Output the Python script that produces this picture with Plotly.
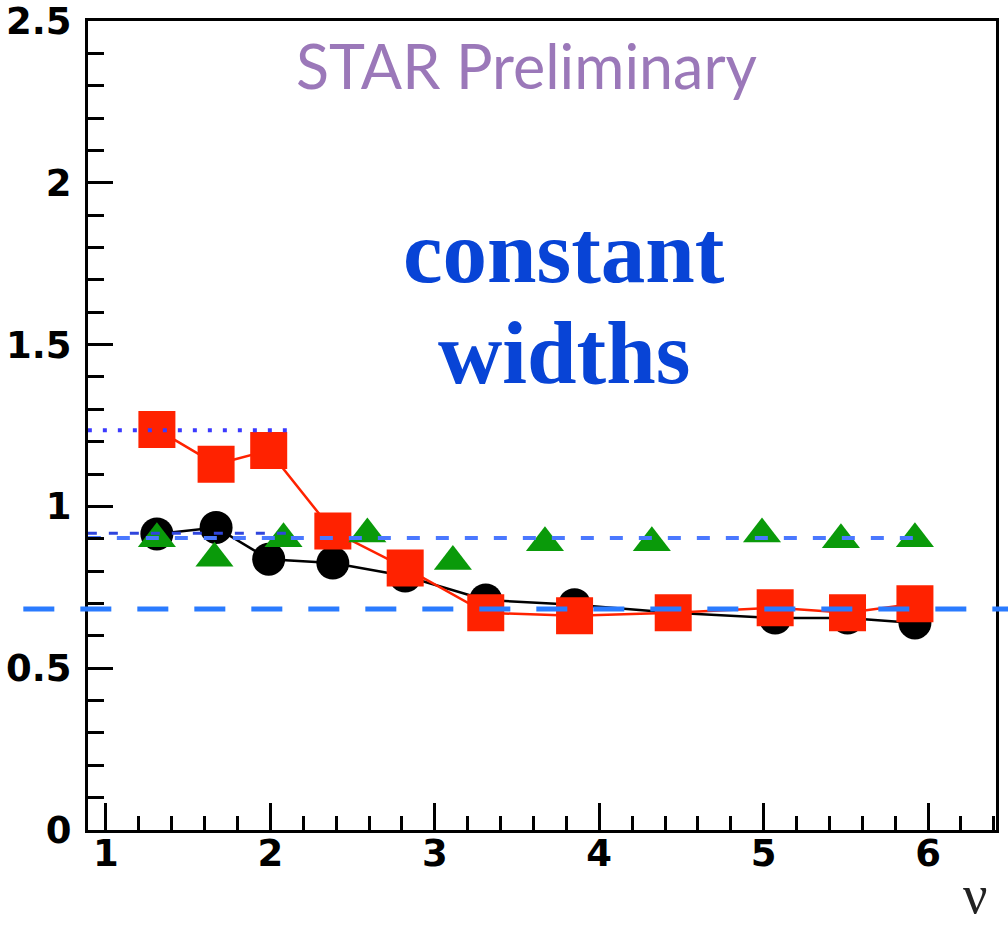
import plotly.graph_objects as go

# ---- data ----
nu = [1.31, 1.67, 1.99, 2.38, 2.82, 3.31, 3.85, 4.45, 5.07, 5.51, 5.92]
red_vals = [1.238, 1.13, 1.173, 0.924, 0.81, 0.671, 0.662, 0.671, 0.687, 0.671, 0.699]
black_vals = [0.915, 0.935, 0.837, 0.825, 0.785, 0.711, 0.696, 0.671, 0.655, 0.655, 0.64]

nu_green = [1.31, 1.66, 2.08, 2.59, 3.11, 3.67, 4.32, 4.99, 5.47, 5.92]
green_vals = [0.90, 0.84, 0.90, 0.915, 0.83, 0.888, 0.888, 0.915, 0.897, 0.90]

# reference levels
level_dotted = 1.235
level_dash_short = 0.917
level_dash_long = 0.902
level_thick = 0.683
short_span = [0.89, 2.1]
long_span = [0.89, 6.0]

x_range = [0.891, 6.413]
y_range = [0, 2.5]
y_tickvals = [0, 0.5, 1, 1.5, 2, 2.5]
y_ticktext = ["0", "0.5", "1", "1.5", "2", "2.5"]
x_tickvals = [1, 2, 3, 4, 5, 6]
x_ticktext = ["1", "2", "3", "4", "5", "6"]

TOP = 21
BOTTOM_PX = 830
PLOT_H = BOTTOM_PX - TOP

fig = go.Figure()

fig.add_trace(go.Scatter(
    x=nu, y=black_vals, mode="lines+markers",
    line=dict(color="black", width=2.5),
    marker=dict(symbol="circle", size=33, color="black"),
    showlegend=False))

fig.add_trace(go.Scatter(
    x=nu, y=red_vals, mode="lines+markers",
    line=dict(color="#ff2200", width=2.5),
    marker=dict(symbol="square", size=37, color="#ff2200"),
    showlegend=False))

fig.add_trace(go.Scatter(
    x=nu_green, y=green_vals, mode="markers",
    marker=dict(symbol="triangle-up", size=33, color="#0a9a0a"),
    showlegend=False))

# reference lines drawn on top
fig.add_trace(go.Scatter(
    x=short_span, y=[level_dotted, level_dotted], mode="lines",
    line=dict(color="#3b3bff", width=4, dash="4px,11px"),
    showlegend=False))
fig.add_trace(go.Scatter(
    x=short_span, y=[level_dash_short, level_dash_short], mode="lines",
    line=dict(color="#2f45dd", width=3, dash="9px,12px"),
    showlegend=False))
fig.add_trace(go.Scatter(
    x=long_span, y=[level_dash_long, level_dash_long], mode="lines",
    line=dict(color="#4a78ff", width=4, dash="13px,16px"),
    showlegend=False))

fig.add_shape(type="line", xref="paper", yref="y",
              x0=-0.134, x1=1.03, y0=level_thick, y1=level_thick,
              line=dict(color="#2a7bff", width=5, dash="31px,26px"),
              layer="above")

axis_common = dict(
    showline=True, linewidth=3, linecolor="black", mirror=True,
    ticks="inside", tickcolor="black", tickwidth=3,
    showgrid=False, zeroline=False, automargin=False,
    ticklabeloverflow="allow",
    tickfont=dict(family="DejaVu Sans", size=37, color="black", weight="bold"),
)

fig.update_xaxes(range=x_range, tickvals=x_tickvals, ticktext=x_ticktext,
                 ticklen=27, ticklabelstandoff=-11,
                 minor=dict(ticks="inside", ticklen=14, tickwidth=3,
                            tickcolor="black", dtick=0.2, tick0=0, showgrid=False),
                 **axis_common)
fig.update_yaxes(range=y_range, tickvals=y_tickvals, ticktext=y_ticktext,
                 ticklen=25, ticklabelstandoff=6,
                 minor=dict(ticks="inside", ticklen=16, tickwidth=3,
                            tickcolor="black", dtick=0.1, tick0=0, showgrid=False),
                 **axis_common)


def py(pix):
    return (BOTTOM_PX - pix) / PLOT_H


fig.add_annotation(text="STAR Preliminary", xref="paper", yref="paper",
                   x=(526 - 88) / 908, y=py(65), showarrow=False,
                   xanchor="center", yanchor="middle",
                   font=dict(family="Lato", size=61, color="#9b78b9"))
fig.add_annotation(text="<b>constant</b>", xref="paper", yref="paper",
                   x=(564 - 88) / 908, y=py(252), showarrow=False,
                   xanchor="center", yanchor="middle",
                   font=dict(family="Liberation Serif", size=89, color="#0844d6"))
fig.add_annotation(text="<b>widths</b>", xref="paper", yref="paper",
                   x=(564 - 88) / 908, y=py(353), showarrow=False,
                   xanchor="center", yanchor="middle",
                   font=dict(family="Liberation Serif", size=89, color="#0844d6"))
fig.add_annotation(text="ν", xref="paper", yref="paper",
                   x=(975 - 88) / 908, y=py(895),
                   showarrow=False, xanchor="center", yanchor="middle",
                   font=dict(family="Liberation Serif", size=54, color="#222222"))

fig.update_layout(
    width=1008, height=927,
    margin=dict(l=88, r=12, t=TOP, b=927 - BOTTOM_PX),
    paper_bgcolor="white", plot_bgcolor="white",
)

fig.write_html("out.html", config={"displayModeBar": False},
               post_script="document.body.style.margin='0px';")
